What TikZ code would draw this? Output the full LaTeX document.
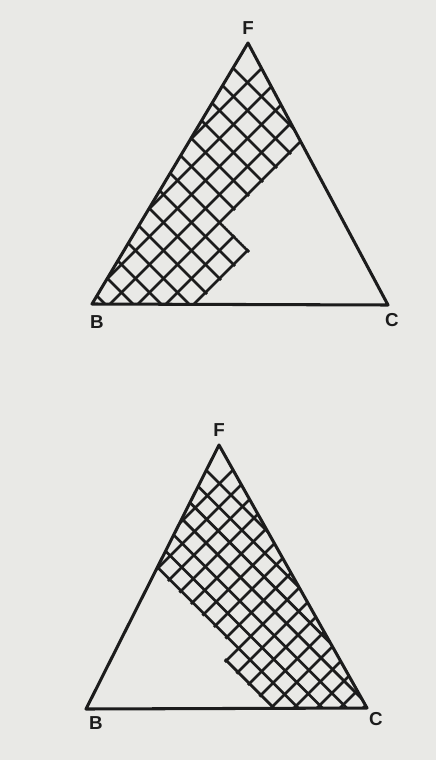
\documentclass[tikz,border=0pt]{standalone}
\usepackage{fontspec}
\setsansfont{Liberation Sans}
\definecolor{paper}{RGB}{233,233,230}
\definecolor{ink}{RGB}{28,28,28}

\begin{document}
\begin{tikzpicture}[x=0.03cm, y=-0.03cm,
  tri/.style={draw=ink, line width=2.6pt, line join=round},
  hatch/.style={draw=ink, line width=2.3pt},
  lbl/.style={font=\sffamily\bfseries\fontsize{16}{19}\selectfont, text=ink, inner sep=0pt},
  gridxy/.style={x={(0.015cm,-0.015cm)}, y={(-0.015cm,-0.015cm)}},
]
  \fill[paper] (0,0) rectangle (436,760);
  \useasboundingbox (0,0) rectangle (436,760);

  % upper triangle
  \coordinate (F1) at (248,43);
  \coordinate (B1) at (92,304);
  \coordinate (C1) at (388,305);
  \begin{scope}
    \clip (F1) -- (B1) -- (C1) -- cycle;
    \begin{scope}[gridxy]
      \clip (-500,-1000) -- (445,-1000) -- (445,1) -- (501,1) -- (501,1000) -- (-500,1000) -- cycle;
      \foreach \u in {0,...,6}
        \draw[hatch] ({330+28*\u},-1000) -- ({330+28*\u},1000);
      \foreach \v in {0,...,13}
        \draw[hatch] (-1000,{-165+28*\v}) -- (2000,{-165+28*\v});
    \end{scope}
  \end{scope}
  \draw[tri] (F1) -- (B1) -- (C1) -- cycle;
  \node[lbl] (lF1) at (248,28) {F};
  \node[lbl] (lB1) at (97,322) {B};
  \node[lbl] (lC1) at (392,320) {C};

  % lower triangle
  \coordinate (F2) at (219,445);
  \coordinate (B2) at (86,709);
  \coordinate (C2) at (367,708);
  \begin{scope}
    \clip (F2) -- (B2) -- (C2) -- cycle;
    \begin{scope}[gridxy]
      \clip (400,-1000) -- (2000,-1000) -- (2000,437) -- (884,437) -- (884,413) -- (400,413) -- cycle;
      \foreach \u in {0,...,16}
        \draw[hatch] ({703+23*\u},-1000) -- ({703+23*\u},1000);
      \foreach \v in {0,...,7}
        \draw[hatch] (-1000,{264+24.3*\v}) -- (2000,{264+24.3*\v});
    \end{scope}
  \end{scope}
  \draw[tri] (F2) -- (B2) -- (C2) -- cycle;
  \node[lbl] (lF2) at (219,430) {F};
  \node[lbl] (lB2) at (96,723) {B};
  \node[lbl] (lC2) at (376,719) {C};
\end{tikzpicture}
\end{document}
